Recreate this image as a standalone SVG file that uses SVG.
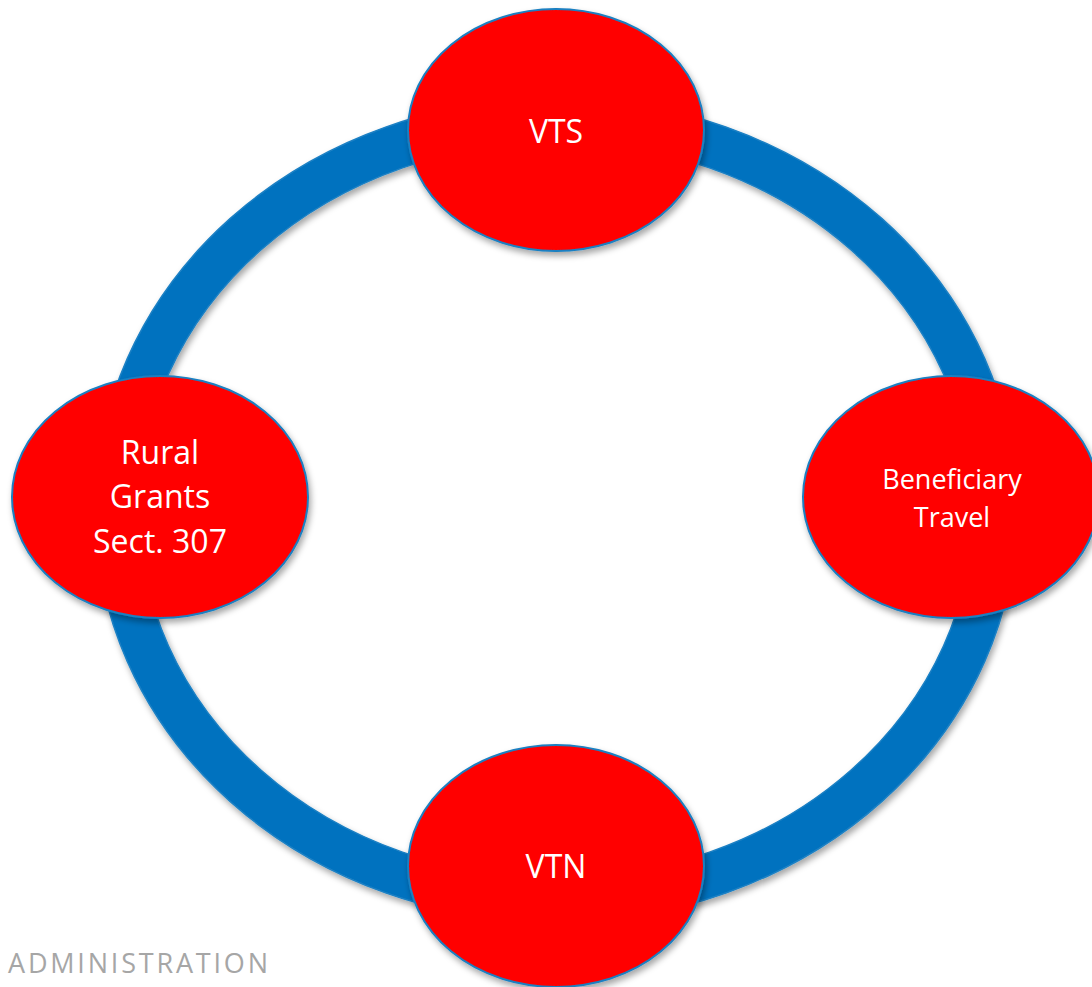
<svg xmlns="http://www.w3.org/2000/svg" width="1092" height="987" viewBox="0 0 1092 987">
<defs>
<filter id="sh" x="-10%" y="-10%" width="130%" height="130%">
<feDropShadow dx="2" dy="4" stdDeviation="3" flood-color="#000" flood-opacity="0.35"/>
</filter>
<style>
.node{fill:#FF0000;stroke:#1A7FC1;stroke-width:2;filter:url(#sh)}
.lbl{fill:#FFFFFF;font-family:"Open Sans","Liberation Sans",sans-serif;text-anchor:middle}
.ring{fill:#0072BF;stroke:#1B80C4;stroke-width:1.5;fill-rule:evenodd;filter:url(#sh)}
</style>
</defs>
<rect width="1092" height="987" fill="#FFFFFF"/>
<g id="connectors">
<path class="ring" d="M95,510 A461,412 0 1,0 1017,510 A461,412 0 1,0 95,510 Z M139,510 A417,368 0 1,0 973,510 A417,368 0 1,0 139,510 Z"/>
</g>
<g id="node-vts">
<ellipse class="node" cx="556" cy="130" rx="148" ry="121"/>
<text class="lbl" x="556" y="143" font-size="32">VTS</text>
</g>
<g id="node-rural">
<ellipse class="node" cx="160" cy="497" rx="148" ry="121"/>
<text class="lbl" x="160" y="464" font-size="32">Rural</text>
<text class="lbl" x="160" y="508" font-size="32">Grants</text>
<text class="lbl" x="160" y="553" font-size="32">Sect. 307</text>
</g>
<g id="node-beneficiary">
<ellipse class="node" cx="951" cy="497" rx="148" ry="121"/>
<text class="lbl" x="952" y="489" font-size="27">Beneficiary</text>
<text class="lbl" x="952" y="527" font-size="27">Travel</text>
</g>
<g id="node-vtn">
<ellipse class="node" cx="556" cy="866" rx="148" ry="121"/>
<text class="lbl" x="556" y="878" font-size="32">VTN</text>
</g>
<text x="8" y="973" font-family="Open Sans, Liberation Sans, sans-serif" font-size="27" fill="#A6A6A6" textLength="260" lengthAdjust="spacing">ADMINISTRATION</text>
</svg>
